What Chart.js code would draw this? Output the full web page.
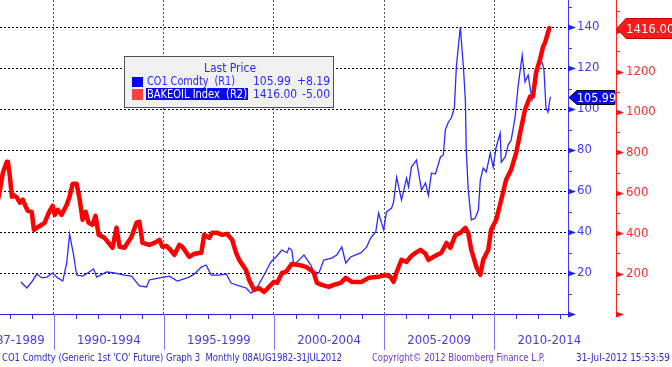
<!DOCTYPE html>
<html>
<head>
<meta charset="utf-8">
<script src="https://cdn.jsdelivr.net/npm/chart.js@4/dist/chart.umd.min.js"></script>
<style>
  body { margin: 0; background: #fff; }
  canvas { display: block; }
</style>
</head>
<body>
<canvas id="grafico" width="672" height="367"></canvas>
<script>
// CO1 Comdty (Brent), decimal years -> USD
let crudeDates = [1988.51, 1988.78, 1989.0, 1989.23, 1989.46, 1989.68, 1989.95, 1990.18, 1990.41, 1990.59, 1990.72, 1990.9, 1991.04, 1991.31, 1991.54, 1991.81, 1991.95, 1992.4, 1992.76, 1993.21, 1993.53, 1993.89, 1994.21, 1994.34, 1994.57, 1995.25, 1995.61, 1996.15, 1996.38, 1996.7, 1996.92, 1997.15, 1997.51, 1997.83, 1998.05, 1998.42, 1998.73, 1998.96, 1999.19, 1999.55, 1999.86, 2000.09, 2000.36, 2000.59, 2000.68, 2000.81, 2000.9, 2001.13, 2001.36, 2001.67, 2001.81, 2002.04, 2002.26, 2002.62, 2002.85, 2003.08, 2003.26, 2003.48, 2003.71, 2003.94, 2004.21, 2004.39, 2004.62, 2004.75, 2004.84, 2004.98, 2005.11, 2005.34, 2005.43, 2005.57, 2005.79, 2006.02, 2006.11, 2006.24, 2006.47, 2006.7, 2006.88, 2007.01, 2007.15, 2007.33, 2007.56, 2007.69, 2007.78, 2007.92, 2008.05, 2008.19, 2008.28, 2008.46, 2008.6, 2008.69, 2008.73, 2008.82, 2008.96, 2009.14, 2009.28, 2009.37, 2009.5, 2009.64, 2009.82, 2009.95, 2010.09, 2010.27, 2010.32, 2010.5, 2010.63, 2010.77, 2010.95, 2011.09, 2011.27, 2011.4, 2011.54, 2011.72, 2011.86, 2012.04, 2012.17, 2012.26, 2012.35, 2012.44, 2012.55];
let crudeValues = [15.6, 12.7, 15.6, 19.5, 17.6, 18.0, 20.0, 17.6, 16.1, 24.9, 39.0, 28.8, 19.0, 18.5, 20.0, 22.0, 18.0, 20.5, 20.0, 19.0, 18.5, 13.7, 13.2, 16.6, 17.1, 18.5, 16.1, 18.0, 19.5, 22.9, 23.9, 19.0, 19.0, 19.5, 15.1, 13.7, 12.7, 10.2, 12.2, 19.0, 25.4, 27.8, 31.2, 29.8, 32.2, 31.2, 23.9, 26.3, 28.8, 23.9, 20.5, 20.0, 26.3, 27.3, 28.8, 32.7, 24.9, 27.8, 28.8, 29.8, 32.7, 37.1, 40.0, 49.3, 45.9, 41.0, 49.8, 51.7, 54.6, 66.8, 55.6, 66.3, 62.0, 71.7, 75.1, 60.5, 63.9, 58.0, 68.8, 68.3, 76.6, 77.6, 89.8, 93.7, 95.6, 100.5, 120.5, 140.0, 120.5, 104.4, 80.0, 60.5, 45.9, 46.8, 50.7, 65.4, 71.2, 69.3, 78.5, 71.7, 81.5, 88.3, 74.1, 76.6, 82.4, 84.9, 96.1, 111.7, 126.3, 113.2, 116.6, 104.4, 110.7, 122.4, 122.9, 119.0, 100.5, 98.5, 105.99];

// BAKEOIL Index
let bakeDates = [1987.42, 1987.56, 1987.69, 1987.87, 1987.92, 1988.01, 1988.1, 1988.14, 1988.33, 1988.46, 1988.6, 1988.69, 1988.82, 1989.0, 1989.1, 1989.23, 1989.46, 1989.59, 1989.77, 1989.95, 1990.05, 1990.18, 1990.36, 1990.59, 1990.72, 1990.86, 1991.04, 1991.18, 1991.31, 1991.45, 1991.58, 1991.76, 1991.9, 1992.04, 1992.31, 1992.49, 1992.67, 1992.85, 1992.99, 1993.21, 1993.53, 1993.76, 1993.89, 1994.03, 1994.34, 1994.57, 1994.8, 1994.93, 1995.11, 1995.25, 1995.48, 1995.7, 1995.84, 1996.15, 1996.38, 1996.7, 1996.83, 1997.06, 1997.19, 1997.42, 1997.65, 1997.87, 1998.1, 1998.28, 1998.42, 1998.73, 1998.87, 1999.1, 1999.32, 1999.55, 1999.77, 2000.0, 2000.14, 2000.36, 2000.54, 2000.81, 2001.13, 2001.45, 2001.67, 2001.81, 2001.95, 2002.17, 2002.49, 2002.71, 2003.03, 2003.26, 2003.53, 2003.98, 2004.3, 2004.75, 2005.07, 2005.29, 2005.43, 2005.57, 2005.79, 2006.02, 2006.2, 2006.43, 2006.65, 2006.88, 2007.01, 2007.24, 2007.6, 2007.83, 2008.01, 2008.24, 2008.46, 2008.69, 2008.82, 2008.96, 2009.19, 2009.37, 2009.5, 2009.73, 2009.86, 2010.09, 2010.32, 2010.54, 2010.77, 2011.0, 2011.18, 2011.4, 2011.63, 2011.76, 2011.9, 2012.08, 2012.22, 2012.31, 2012.5];
let bakeValues = [541, 615, 700, 754, 754, 680, 581, 591, 576, 551, 566, 541, 511, 506, 417, 427, 442, 452, 501, 536, 491, 516, 491, 541, 581, 645, 645, 566, 467, 506, 452, 442, 486, 392, 377, 352, 328, 427, 333, 328, 382, 452, 457, 352, 342, 352, 367, 333, 337, 323, 293, 342, 333, 283, 298, 303, 392, 377, 402, 402, 392, 397, 367, 303, 268, 218, 169, 119, 129, 109, 134, 159, 154, 203, 208, 248, 243, 233, 218, 203, 154, 144, 134, 144, 154, 179, 159, 159, 179, 184, 194, 184, 159, 208, 268, 258, 283, 303, 318, 298, 268, 283, 303, 352, 328, 392, 402, 427, 402, 318, 233, 194, 268, 318, 417, 467, 566, 665, 715, 799, 898, 1012, 1077, 1077, 1196, 1261, 1325, 1345, 1416];

let periodStarts = [1985, 1990, 1995, 2000, 2005, 2010];
let periodLabels = ["1987-1989", "1990-1994", "1995-1999", "2000-2004", "2005-2009", "2010-2014"];

let ultimoCrudo = 105.99;
let ultimoBake = 1416.00;

const FUENTE = '"DejaVu Sans Condensed", "DejaVu Sans", sans-serif';
Chart.defaults.font.family = FUENTE;

function puntos(fechas, valores) {
    return fechas.map((f, i) => ({ x: f, y: valores[i] }));
}

function triangulo(ctx, x, y, color) {
    ctx.fillStyle = color;
    ctx.beginPath();
    ctx.moveTo(x, y - 3);
    ctx.lineTo(x + 8, y);
    ctx.lineTo(x, y + 3);
    ctx.closePath();
    ctx.fill();
}

const decorado = {
    id: "decorado",
    afterDraw(chart) {
        const ctx = chart.ctx;
        const xs = chart.scales.x;
        const yA = chart.scales.y;
        const yB = chart.scales.y1;
        const base = chart.chartArea.bottom;
        ctx.save();

        // minor ticks on the right axes
        ctx.lineWidth = 1;
        ctx.strokeStyle = "#3a3aff";
        for (let v = 10; v <= 150; v += 20) {
            const y = Math.round(yA.getPixelForValue(v)) + 0.5;
            ctx.beginPath(); ctx.moveTo(yA.left, y); ctx.lineTo(yA.left + 4, y); ctx.stroke();
        }
        ctx.strokeStyle = "#ff2020";
        for (let v = 100; v <= 1500; v += 200) {
            const y = Math.round(yB.getPixelForValue(v)) + 0.5;
            ctx.beginPath(); ctx.moveTo(yB.left, y); ctx.lineTo(yB.left + 4, y); ctx.stroke();
        }
        yA.ticks.forEach(t => triangulo(ctx, yA.left, Math.round(yA.getPixelForValue(t.value)) + 0.5, "#2020ff"));
        yB.ticks.forEach(t => triangulo(ctx, yB.left, Math.round(yB.getPixelForValue(t.value)) + 0.5, "#ff1010"));

        // year ticks and period separators
        ctx.strokeStyle = "#3030e0";
        for (let a = 1988; a <= 2013; a++) {
            const x = Math.round(xs.getPixelForValue(a)) + 0.5;
            ctx.beginPath(); ctx.moveTo(x, base); ctx.lineTo(x, base + 5); ctx.stroke();
        }
        ctx.strokeStyle = "#7a7aff";
        periodStarts.forEach(p => {
            const x = Math.round(xs.getPixelForValue(p)) + 0.5;
            if (x > 1 && x < chart.chartArea.right) {
                ctx.beginPath(); ctx.moveTo(x, base); ctx.lineTo(x, base + 36); ctx.stroke();
            }
        });
        ctx.font = "13px " + FUENTE;
        ctx.textBaseline = "middle";
        ctx.fillStyle = "#4a3ae0";
        periodStarts.forEach((p, i) => {
            const centro = xs.getPixelForValue(p + 2.5);
            const borde = xs.getPixelForValue(p + 5);
            const w = ctx.measureText(periodLabels[i]).width;
            if (centro - w / 2 < 0) {
                ctx.textAlign = "right";
                ctx.fillText(periodLabels[i], borde - 9, base + 27);
            } else {
                ctx.textAlign = "center";
                ctx.fillText(periodLabels[i], centro, base + 27);
            }
        });

        // footer
        ctx.font = "10px " + FUENTE;
        ctx.textAlign = "left";
        ctx.fillStyle = "#2a2ad0";
        ctx.fillText("CO1 Comdty (Generic 1st 'CO' Future) Graph 3  Monthly 08AUG1982-31JUL2012", 2, 358, 340);
        ctx.fillStyle = "#7038c8";
        ctx.fillText("Copyright\u00a9 2012 Bloomberg Finance L.P.", 372, 358, 173);
        ctx.fillStyle = "#2a2ad0";
        ctx.textAlign = "right";
        ctx.fillText("31-Jul-2012 15:53:59", 670, 358, 94);

        // last price tags
        let y = Math.round(yA.getPixelForValue(ultimoCrudo)) + 0.5;
        let x0 = yA.left + 1;
        ctx.fillStyle = "#0a0af0";
        ctx.strokeStyle = "#000";
        ctx.beginPath();
        ctx.moveTo(x0, y); ctx.lineTo(x0 + 8, y - 7); ctx.lineTo(yB.left - 1, y - 7);
        ctx.lineTo(yB.left - 1, y + 7); ctx.lineTo(x0 + 8, y + 7); ctx.closePath();
        ctx.fill(); ctx.stroke();
        ctx.fillStyle = "#fff";
        ctx.font = "13px " + FUENTE;
        ctx.textAlign = "left";
        ctx.fillText(ultimoCrudo.toFixed(2), x0 + 8, y + 1, 39);

        y = Math.round(yB.getPixelForValue(ultimoBake)) + 0.5;
        x0 = yB.left + 1;
        ctx.fillStyle = "#ff1a1a";
        ctx.strokeStyle = "#c00000";
        ctx.beginPath();
        ctx.moveTo(x0, y); ctx.lineTo(x0 + 9, y - 10); ctx.lineTo(673, y - 10);
        ctx.lineTo(673, y + 10); ctx.lineTo(x0 + 9, y + 10); ctx.closePath();
        ctx.fill(); ctx.stroke();
        ctx.fillStyle = "#fff";
        ctx.fillText(ultimoBake.toFixed(2), x0 + 9, y + 1);

        // legend box
        ctx.fillStyle = "#f0f0f0";
        ctx.fillRect(124, 56, 209, 51);
        ctx.strokeStyle = "#505050";
        ctx.strokeRect(124.5, 56.5, 209, 51);
        ctx.font = "12px " + FUENTE;
        ctx.fillStyle = "#2a2aff";
        ctx.textAlign = "center";
        ctx.fillText("Last Price", 230, 69);
        ctx.fillStyle = "#0000ff";
        ctx.fillRect(132, 77, 11, 10);
        ctx.fillStyle = "#ff4040";
        ctx.fillRect(132, 89, 11, 11);
        ctx.fillStyle = "#0a0af0";
        ctx.fillRect(146, 88, 102, 12);
        ctx.textAlign = "left";
        ctx.fillStyle = "#2a2aff";
        ctx.fillText("CO1 Comdty  (R1)", 147, 82, 88);
        ctx.fillText(ultimoCrudo.toFixed(2), 253, 82, 38);
        ctx.fillText("1416.00", 253, 95, 44);
        ctx.textAlign = "right";
        ctx.fillText("+8.19", 330, 82);
        ctx.fillText("-5.00", 330, 95);
        ctx.textAlign = "left";
        ctx.fillStyle = "#fff";
        ctx.fillText("BAKEOIL Index  (R2)", 147, 95, 100);

        ctx.restore();
    }
};

function fijarAncho(w) {
    return function (scale) {
        scale.width = w;
        scale.paddingTop = 0;
        scale.paddingBottom = 0;
    };
}

const conf = {
    type: "line",
    data: {
        datasets: [
            {
                label: "CO1 Comdty (R1)",
                data: puntos(crudeDates, crudeValues),
                borderColor: "#2b2bff",
                borderWidth: 1.3,
                pointRadius: 0,
                yAxisID: "y",
                order: 1
            },
            {
                label: "BAKEOIL Index (R2)",
                data: puntos(bakeDates, bakeValues),
                borderColor: "#ff0000",
                borderWidth: 4.5,
                borderJoinStyle: "round",
                borderCapStyle: "round",
                pointRadius: 0,
                yAxisID: "y1",
                order: 0
            }
        ]
    },
    options: {
        responsive: false,
        animation: false,
        layout: { padding: 0 },
        plugins: { legend: { display: false }, tooltip: { enabled: false } },
        scales: {
            x: {
                type: "linear",
                min: 1987.56,
                max: 2013.35,
                ticks: { display: false, stepSize: 5, includeBounds: false },
                grid: { color: "#555", drawTicks: false },
                border: { display: true, color: "#2020e0", dash: [2, 2] },
                afterFit(scale) { scale.height = 53; scale.paddingLeft = 0; scale.paddingRight = 0; }
            },
            y: {
                position: "right",
                weight: 1,
                min: 0,
                max: 153.2,
                ticks: {
                    stepSize: 20,
                    includeBounds: false,
                    padding: 9,
                    color: "#3a3aff",
                    font: { size: 13 },
                    callback: v => (v === 0 ? "" : v)
                },
                grid: { color: "#000", drawTicks: false },
                border: { display: true, color: "#3a3aff", dash: [2, 2] },
                afterFit: fijarAncho(48)
            },
            y1: {
                position: "right",
                weight: 2,
                min: 0,
                max: 1555,
                ticks: {
                    stepSize: 200,
                    includeBounds: false,
                    padding: 10,
                    color: "#ff2a2a",
                    font: { size: 13 },
                    callback: v => (v === 0 || v === 1400 ? "" : v)
                },
                grid: { display: false, drawTicks: false },
                border: { display: true, color: "#ff2020" },
                afterFit: fijarAncho(56)
            }
        }
    },
    plugins: [decorado]
};

let grafico = new Chart(document.getElementById("grafico"), conf);
</script>
</body>
</html>
